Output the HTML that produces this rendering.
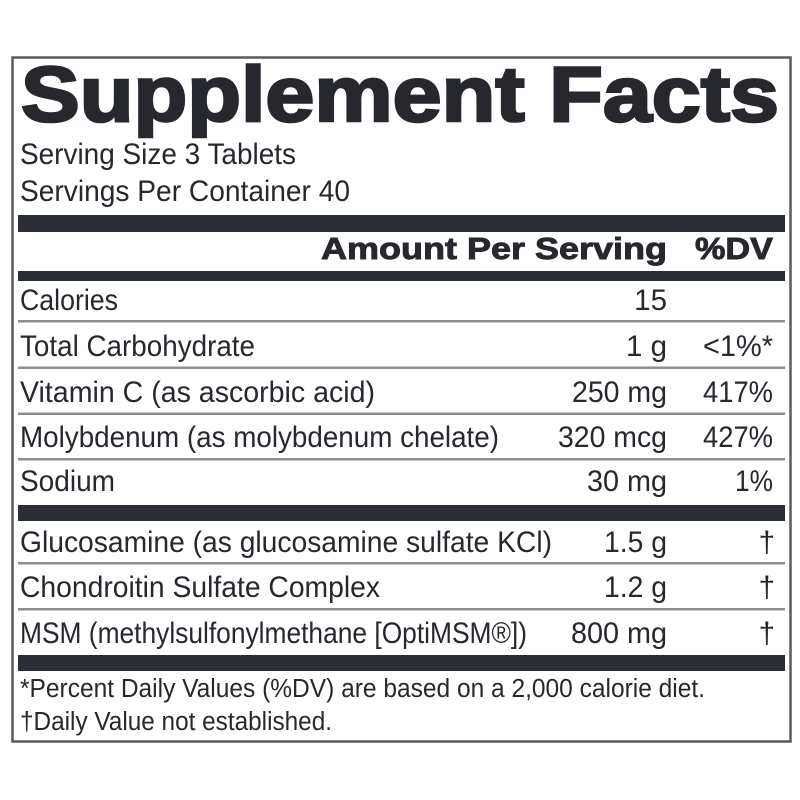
<!DOCTYPE html>
<html><head><meta charset="utf-8"><style>
html,body{margin:0;padding:0;background:#fff;}
svg{display:block;}
text{font-family:"Liberation Sans",Arial,sans-serif;fill:#26282e;}
</style></head><body>
<svg width="800" height="800" viewBox="0 0 800 800" xmlns="http://www.w3.org/2000/svg">
<rect x="0" y="0" width="800" height="800" fill="#fff"/>
<rect x="12.5" y="57.5" width="778" height="684" fill="none" stroke="#5a5a5a" stroke-width="2.5"/>
<!-- title -->
<text x="21" y="121" font-size="78" font-weight="bold" stroke="#26282e" stroke-width="2.6" textLength="758" lengthAdjust="spacingAndGlyphs">Supplement Facts</text>
<text x="20" y="164" font-size="29.5" textLength="276" lengthAdjust="spacingAndGlyphs">Serving Size 3 Tablets</text>
<text x="20" y="201" font-size="29.5" textLength="330" lengthAdjust="spacingAndGlyphs">Servings Per Container 40</text>
<!-- bars -->
<rect x="18" y="215" width="767" height="17" fill="#2a2d34"/>
<rect x="18" y="271" width="767" height="10" fill="#2a2d34"/>
<rect x="18" y="505" width="767" height="16" fill="#2a2d34"/>
<rect x="18" y="655" width="767" height="16" fill="#2a2d34"/>
<!-- header -->
<text x="321" y="259" font-size="31" font-weight="bold" stroke="#26282e" stroke-width="0.9" textLength="346" lengthAdjust="spacingAndGlyphs">Amount Per Serving</text>
<text x="695" y="259" font-size="31" font-weight="bold" stroke="#26282e" stroke-width="0.9" textLength="78" lengthAdjust="spacingAndGlyphs">%DV</text>
<!-- thin lines -->
<g fill="#8e8e8e">
<rect x="18" y="320" width="767" height="2.5"/>
<rect x="18" y="366.5" width="767" height="2.5"/>
<rect x="18" y="412.5" width="767" height="2.5"/>
<rect x="18" y="458" width="767" height="2.5"/>
<rect x="18" y="562" width="767" height="2.5"/>
<rect x="18" y="608" width="767" height="2.5"/>
</g>
<!-- rows -->
<g font-size="29.5">
<text x="20" y="310" textLength="98" lengthAdjust="spacingAndGlyphs">Calories</text>
<text x="667" y="310" text-anchor="end">15</text>

<text x="20" y="356" textLength="235" lengthAdjust="spacingAndGlyphs">Total Carbohydrate</text>
<text x="667" y="356" text-anchor="end" textLength="41" lengthAdjust="spacingAndGlyphs">1 g</text>
<text x="773" y="356" text-anchor="end" textLength="70" lengthAdjust="spacingAndGlyphs">&lt;1%*</text>

<text x="20" y="402" textLength="355" lengthAdjust="spacingAndGlyphs">Vitamin C (as ascorbic acid)</text>
<text x="667" y="402" text-anchor="end" textLength="95" lengthAdjust="spacingAndGlyphs">250 mg</text>
<text x="773" y="402" text-anchor="end" textLength="70" lengthAdjust="spacingAndGlyphs">417%</text>

<text x="20" y="447" textLength="479" lengthAdjust="spacingAndGlyphs">Molybdenum (as molybdenum chelate)</text>
<text x="667" y="447" text-anchor="end" textLength="109" lengthAdjust="spacingAndGlyphs">320 mcg</text>
<text x="773" y="447" text-anchor="end" textLength="70" lengthAdjust="spacingAndGlyphs">427%</text>

<text x="20" y="491" textLength="95" lengthAdjust="spacingAndGlyphs">Sodium</text>
<text x="667" y="491" text-anchor="end" textLength="80" lengthAdjust="spacingAndGlyphs">30 mg</text>
<text x="773" y="491" text-anchor="end" textLength="38" lengthAdjust="spacingAndGlyphs">1%</text>

<text x="20" y="552" textLength="532" lengthAdjust="spacingAndGlyphs">Glucosamine (as glucosamine sulfate KCl)</text>
<text x="667" y="552" text-anchor="end" textLength="63" lengthAdjust="spacingAndGlyphs">1.5 g</text>
<text x="775" y="552" text-anchor="end">†</text>

<text x="20" y="597" textLength="360" lengthAdjust="spacingAndGlyphs">Chondroitin Sulfate Complex</text>
<text x="667" y="597" text-anchor="end" textLength="63" lengthAdjust="spacingAndGlyphs">1.2 g</text>
<text x="775" y="597" text-anchor="end">†</text>

<text x="20" y="643" textLength="507" lengthAdjust="spacingAndGlyphs">MSM (methylsulfonylmethane [OptiMSM®])</text>
<text x="667" y="643" text-anchor="end" textLength="96" lengthAdjust="spacingAndGlyphs">800 mg</text>
<text x="775" y="643" text-anchor="end">†</text>
</g>
<!-- footer -->
<text x="20" y="697" font-size="25.5" textLength="685" lengthAdjust="spacingAndGlyphs">*Percent Daily Values (%DV) are based on a 2,000 calorie diet.</text>
<text x="20" y="730" font-size="25.5" textLength="312" lengthAdjust="spacingAndGlyphs">†Daily Value not established.</text>
</svg>
</body></html>
